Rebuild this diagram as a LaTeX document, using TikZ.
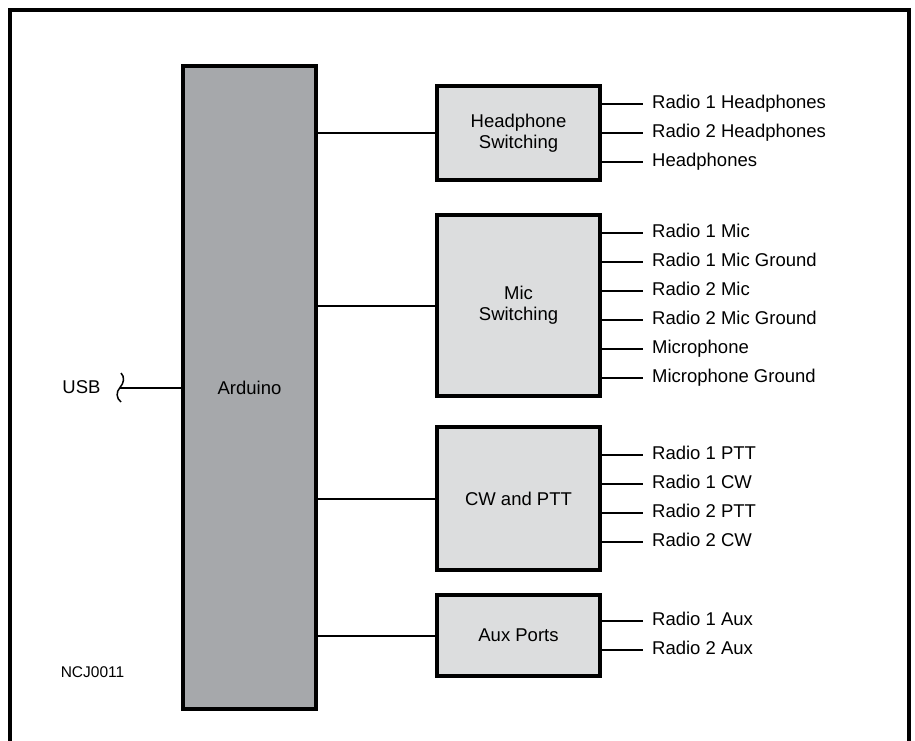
\documentclass[tikz,border=0pt]{standalone}
\usepackage{fontspec}
\setmainfont{Liberation Sans}
\usetikzlibrary{positioning}
\definecolor{grisArduino}{HTML}{A6A8AB}
\definecolor{grisBloque}{HTML}{DCDDDE}

\begin{document}
\begin{tikzpicture}[
        x=1pt, y=-1pt,
        txt/.style={font=\fontsize{18.5}{21}\selectfont},
        ard/.style={txt, draw, fill=grisArduino, line width=4pt,
            minimum width=133pt, minimum height=643pt},
        blq/.style={txt, draw, fill=grisBloque, line width=4pt,
            minimum width=163pt, align=center},
        sal/.style={txt, anchor=west, inner xsep=9pt, inner ysep=0pt,
            text height=13pt, text depth=4pt},
        con/.style={line width=2pt}
    ]
        \useasboundingbox (0,0) rectangle (915,740);
        \draw[line width=3.5pt] (10,745) -- (10,10) -- (909,10) -- (909,745);

        \node[ard] (ard) at (249.5,387.5) {Arduino};
        \node[blq, minimum height=94pt] (hp) at (518.5,133) {Headphone\\Switching};
        \node[blq, minimum height=181pt, below=31pt of hp] (mic) {Mic\\Switching};
        \node[blq, minimum height=143pt, below=27pt of mic] (cw) {CW and PTT};
        \node[blq, minimum height=81pt, below=21pt of cw] (aux) {Aux Ports};

        \foreach \b in {hp,mic,cw,aux}
            \draw[con] (ard.east |- \b.west) -- (\b.west);

        % salidas de cada bloque
        \foreach \t [count=\i] in {Radio 1 Headphones, Radio 2 Headphones, Headphones}
            \node[sal] (hp\i) at ([xshift=41pt, yshift={(2-\i)*29pt}]hp.east) {\t};
        \foreach \t [count=\i] in {Radio 1 Mic, Radio 1 Mic Ground, Radio 2 Mic,
                Radio 2 Mic Ground, Microphone, Microphone Ground}
            \node[sal] (mic\i) at ([xshift=41pt, yshift={(3.5-\i)*29pt}]mic.east) {\t};
        \foreach \t [count=\i] in {Radio 1 PTT, Radio 1 CW, Radio 2 PTT, Radio 2 CW}
            \node[sal] (cw\i) at ([xshift=41pt, yshift={(2.5-\i)*29pt}]cw.east) {\t};
        \foreach \t [count=\i] in {Radio 1 Aux, Radio 2 Aux}
            \node[sal] (aux\i) at ([xshift=41pt, yshift={(1.5-\i)*29pt}]aux.east) {\t};

        \foreach \i in {1,2,3} \draw[con] (hp.east |- hp\i.west) -- (hp\i.west);
        \foreach \i in {1,...,6} \draw[con] (mic.east |- mic\i.west) -- (mic\i.west);
        \foreach \i in {1,...,4} \draw[con] (cw.east |- cw\i.west) -- (cw\i.west);
        \foreach \i in {1,2} \draw[con] (aux.east |- aux\i.west) -- (aux\i.west);

        % USB
        \node[txt] (usb) at (81.5,387.5) {USB};
        \coordinate (usbfin) at (120,387.5);
        \draw[line width=1.5pt] (121,373) .. controls (125,377) and (124,383) .. (usbfin)
            .. controls (116,392) and (116,398) .. (121,402);
        \draw[con] (usbfin) -- (ard.west);

        \node[font=\fontsize{15.5}{18}\selectfont] (ref) at (92.5,672) {NCJ0011};
    \end{tikzpicture}
\end{document}
